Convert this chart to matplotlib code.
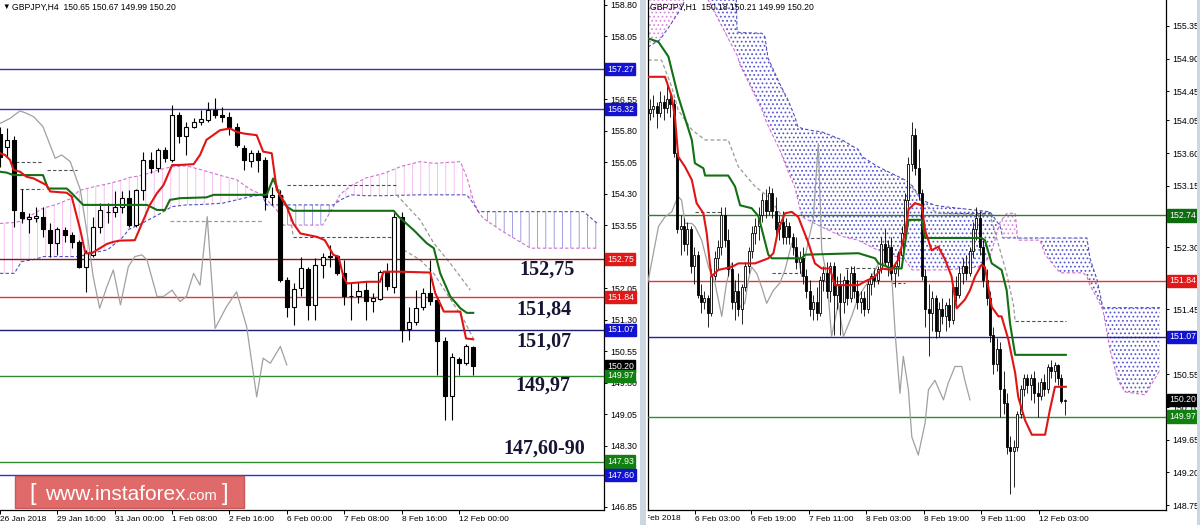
import matplotlib
matplotlib.use("Agg")
import matplotlib.pyplot as plt
import numpy as np
from matplotlib.patches import Rectangle
from matplotlib.transforms import Bbox, blended_transform_factory

plt.rcParams['font.family'] = ['Liberation Sans', 'DejaVu Sans']
plt.rcParams['hatch.linewidth'] = 0.5

# ---------------- LEFT CHART (GBPJPY, H4) ----------------
L_OPEN = [155.74,155.43,155.59,153.88,153.70,153.74,153.76,153.44,153.13,153.44,
          153.32,153.16,152.57,152.85,153.52,153.86,153.88,154.00,154.20,153.56,
          154.40,155.11,154.93,155.35,155.11,156.18,155.67,155.90,156.02,156.06,
          156.31,156.18,156.14,155.89,155.39,155.09,155.27,155.11,154.24,154.28,
          152.25,151.62,152.05,152.51,151.66,152.61,152.82,152.82,152.41,151.87,
          151.86,152.01,151.76,151.79,152.45,152.09,153.76,151.08,151.26,151.62,
          151.95,151.78,150.81,149.48,150.36,150.27,150.65]
L_HIGH = [155.90,155.86,155.67,154.43,153.84,154.00,154.00,153.60,153.52,153.52,
          153.40,153.20,152.97,153.76,154.08,154.08,154.36,154.36,154.40,154.43,
          155.31,155.31,155.39,155.43,156.42,156.26,156.02,156.10,156.30,156.50,
          156.58,156.38,156.26,155.98,155.47,155.35,155.35,155.19,154.47,154.40,
          152.33,152.17,152.81,152.57,152.77,152.89,153.09,152.85,152.73,152.17,
          152.21,152.21,151.94,152.49,152.65,153.84,153.88,151.62,152.01,152.05,
          152.73,151.86,150.90,150.51,150.43,150.74,150.67]
L_LOW = [154.95,155.19,153.52,153.60,153.36,153.64,153.28,152.81,152.85,153.16,
         153.01,152.53,151.97,152.81,153.36,153.60,153.76,153.84,153.52,153.52,
         154.16,154.79,154.83,155.07,155.07,155.51,155.23,155.86,155.94,156.02,
         156.10,156.02,155.70,155.43,154.87,154.95,154.83,153.92,154.04,152.21,
         151.38,151.18,151.86,151.30,151.30,152.29,152.57,152.37,151.66,151.30,
         151.70,151.30,151.50,151.78,152.01,151.94,150.78,150.82,151.18,151.54,
         151.66,149.99,148.92,148.92,149.99,150.23,149.99]
L_CLOSE = [155.19,155.59,153.92,153.72,153.76,153.78,153.46,153.13,153.46,153.32,
           153.16,152.57,152.89,153.52,153.92,153.88,154.00,154.20,153.56,154.40,
           155.11,154.93,155.35,155.15,156.18,155.67,155.90,156.02,156.08,156.30,
           156.18,156.14,155.89,155.47,155.11,155.27,155.11,154.24,154.28,152.25,
           151.62,152.03,152.53,151.66,152.61,152.81,152.81,152.41,151.87,151.86,
           152.00,151.75,151.82,152.45,152.11,153.76,151.06,151.26,151.58,151.95,
           151.76,150.81,149.48,150.43,150.27,150.67,150.20]

L_TENKAN_X = [0,0.7,1.4,1.9,2.8,3.7,4.7,6.5,7,9.3,10,11.2,11.9,12.8,14.9,15.8,16.7,18.8,20,20.9,
              21.9,22.8,24,24.9,27,27.9,28.8,30.7,32.1,33,34,35.8,36.7,37.9,38.6,40,40.9,41.9,44.2,45.3,
              46.5,47.2,47.9,48.4,51.2,53,53.5,55.8,60,60.7,61.9,64.2,65,66]
L_TENKAN_Y = [155.27,155.23,155.11,154.87,154.83,154.71,154.67,154.51,154.36,154.33,
              154.24,153.44,152.89,152.89,153.11,153.16,153.19,153.20,153.68,154.04,
              154.32,154.51,154.99,154.99,155.01,155.23,155.59,155.82,155.86,155.78,
              155.74,155.70,155.31,155.27,154.40,154.00,153.60,153.36,153.28,153.20,
              152.85,152.81,152.33,152.17,152.21,152.21,152.45,152.45,152.43,151.94,
              151.50,151.50,150.86,150.84]
L_KIJUN_X = [0,0.9,1.9,6,6.7,9.3,10,11.6,20.5,21.9,23,23.7,25.1,28.8,29.8,37.2,38.1,39.1,40,40.9,
             54.9,55.6,57.7,59.5,60.5,61.4,62.8,64.2,65.1,66]
L_KIJUN_Y = [154.83,154.81,154.75,154.75,154.43,154.43,154.32,154.04,154.04,153.92,
             153.92,154.16,154.20,154.22,154.28,154.28,154.67,154.24,154.00,153.90,
             153.90,153.76,153.44,153.13,153.01,152.41,151.86,151.58,151.47,151.47]
L_CHIKOU_X = [0,1.4,2.8,3.7,4.7,6,7.7,8.6,9.8,11.2,12.3,13,13.9,14.9,15.8,16.8,17.9,18.8,19.8,20.5,
              21.9,22.8,24,25.1,26,27,27.9,28.9,30,31.6,33,34.4,35.8,36.7,37.7,39.1,40]
L_CHIKOU_Y = [155.98,156.10,156.28,156.22,156.14,155.90,155.15,155.23,155.07,154.40,
              153.20,152.33,151.58,152.09,152.49,151.66,152.57,152.81,152.85,152.73,
              151.86,151.86,152.01,151.74,151.86,152.41,152.13,153.76,151.10,151.62,
              151.97,151.14,149.47,150.39,150.27,150.67,150.23]
L_CLOUD_X = [0,2,3,5,6,8,10,11,13,15,17,18,20,22,24,26,28,31,33,35,
             36.5,37.2,38.6,39.5,45,46.5,47.5,49,51,53.5,56,58.6,60.5,64.2,65.1,66,66.7,67.4,70,74,
             81.4,83.3]
L_SPAN_A = [153.60,153.62,153.66,153.86,153.96,154.06,154.20,154.38,154.47,154.54,
            154.63,154.69,154.75,154.87,154.95,154.97,154.88,154.73,154.64,154.40,
            154.29,154.16,153.92,153.56,153.56,154.00,154.30,154.50,154.68,154.79,
            154.96,155.07,155.03,155.07,154.71,154.16,153.88,153.72,153.42,153.01,
            153.01,153.01]
L_SPAN_B = [152.41,152.41,152.69,152.75,152.81,152.81,152.81,152.81,152.90,152.97,
            153.25,153.46,153.62,153.80,154.00,154.04,154.05,154.08,154.16,154.24,
            154.28,154.04,154.04,154.04,154.04,154.04,154.16,154.28,154.26,154.26,
            154.27,154.28,154.28,154.28,154.28,154.08,153.88,153.88,153.88,153.88,
            153.88,153.60]
L_DK_START = [1.4, 6.5, 2.8, 40, 40.9]
L_DK_END = [6, 10.7, 6, 55.3, 54.9]
L_DK_LEVEL = [155.07, 154.87, 154.41, 154.51, 153.28]
L_GRAY_LINES = [
    ([23.7, 36.7], [153.66, 153.66]),
    ([38.1, 39.5, 40.5, 40.9], [154.67, 154.24, 153.76, 153.28]),
    ([55.3, 58.6, 60.5, 62.8, 65.6], [154.28, 153.68, 153.13, 152.65, 152.01]),
    ([56.3, 58.6, 60.5, 62.3, 64.7, 66], [152.97, 152.73, 152.41, 151.93, 151.30, 150.86]),
]
L_LEVELS = [157.27, 156.32, 152.75, 151.84, 151.07, 149.97, 147.93, 147.60]
L_LEVEL_LINE_COLORS = ['#3c2cc8', '#3c2cc8', '#8b1414', '#e83434', '#1e1e70', '#2e8b2e', '#2e8b2e', '#3030e0']
L_LEVEL_BOX_COLORS = ['#1212d0', '#1212d0', '#e01818', '#e01818', '#1212d0', '#118011', '#118011', '#1212d0']
L_YTICKS = [158.80, 158.05, 156.55, 155.80, 155.05, 154.30, 153.55, 152.05, 151.30, 150.55,
            149.80, 149.05, 148.30, 146.85]
L_XTICK_POS = [0, 8, 16, 24, 32, 40, 48, 56, 64]
L_XTICK_LABELS = ["26 Jan 2018", "29 Jan 16:00", "31 Jan 00:00", "1 Feb 08:00", "2 Feb 16:00",
                  "6 Feb 00:00", "7 Feb 08:00", "8 Feb 16:00", "12 Feb 00:00"]
ANNOT_TEXTS = ["152,75", "151,84", "151,07", "149,97", "147,60-90"]

# ---------------- RIGHT CHART (GBPJPY, H1) ----------------
R_OPEN = [154.15,154.20,154.25,154.15,154.30,154.22,154.35,154.28,153.60,152.55,
          152.60,152.35,152.55,152.05,152.20,151.65,151.55,151.60,151.40,151.90,
          152.15,152.30,152.75,152.40,152.00,151.55,151.70,151.45,151.75,152.05,
          152.25,152.50,152.60,152.75,152.95,152.80,153.05,152.80,152.55,152.65,
          152.45,152.60,152.45,152.30,152.10,152.15,151.90,151.70,151.45,151.55,
          151.40,151.85,151.95,151.70,152.05,151.65,151.80,151.55,151.85,151.60,
          151.95,151.70,151.55,151.60,151.45,151.80,151.90,151.85,152.00,152.35,
          152.10,152.30,151.95,152.05,152.20,152.50,152.95,153.45,153.85,153.40,
          153.05,151.90,151.45,151.40,151.60,151.15,151.45,151.35,151.50,151.30,
          151.75,151.65,151.95,152.05,151.95,152.25,152.55,152.70,152.30,151.85,
          151.60,151.10,150.70,150.90,150.35,150.15,149.55,149.50,149.55,150.00,
          150.35,150.50,150.40,150.50,150.30,150.25,150.45,150.35,150.65,150.60,
          150.68,150.50,150.18]
R_HIGH = [154.35,154.40,154.30,154.45,154.40,154.55,154.42,154.35,153.65,152.75,
          152.70,152.65,152.60,152.30,152.25,151.80,151.70,151.65,152.00,152.25,
          152.40,152.85,152.85,152.55,152.10,151.85,151.95,151.80,152.10,152.30,
          152.60,152.70,152.85,153.05,153.10,153.15,153.12,153.00,152.75,152.80,
          152.70,152.65,152.50,152.45,152.25,152.30,152.00,151.85,151.65,151.75,
          151.90,152.05,152.10,152.10,152.10,151.90,151.95,151.90,152.00,152.05,
          152.05,151.85,151.70,151.70,151.85,151.95,152.00,152.05,152.45,152.55,
          152.40,152.45,152.10,152.25,152.60,153.05,153.55,154.03,153.95,153.65,
          153.10,152.00,151.80,151.70,151.65,151.55,151.60,151.55,151.60,151.80,
          151.90,152.05,152.15,152.20,152.30,152.65,152.85,152.80,152.40,152.00,
          151.70,151.20,151.05,151.00,150.60,150.30,149.70,149.65,150.05,150.40,
          150.55,150.55,150.55,150.60,150.45,150.50,150.55,150.70,150.75,150.72,
          150.70,150.55,150.21]
R_LOW = [154.05,154.10,153.95,154.10,154.05,154.15,154.10,153.55,152.50,152.20,
         152.25,152.20,151.95,151.80,151.60,151.40,151.45,151.20,151.35,151.85,
         152.00,152.20,152.30,151.90,151.45,151.30,151.35,151.25,151.70,151.95,
         152.15,152.35,152.40,152.65,152.70,152.75,152.70,152.45,152.40,152.35,
         152.35,152.35,152.20,152.00,151.95,151.80,151.60,151.35,151.30,151.30,
         151.35,151.70,151.60,151.55,151.10,151.45,151.10,151.40,151.50,151.55,
         151.60,151.45,151.40,151.35,151.40,151.65,151.75,151.80,151.95,152.05,
         151.90,151.85,151.75,151.90,152.05,152.40,152.85,153.35,153.30,152.95,
         151.85,151.20,150.80,151.15,151.05,151.07,151.25,151.15,151.20,151.25,
         151.55,151.60,151.80,151.85,151.90,152.15,152.40,152.20,151.75,151.50,
         151.00,150.55,150.60,149.97,150.00,149.45,148.91,149.00,149.50,149.95,
         150.25,150.30,150.20,150.15,149.97,150.20,150.25,150.30,150.50,150.45,
         150.40,150.15,149.99]
R_CLOSE = [154.20,154.25,154.15,154.30,154.22,154.35,154.28,153.60,152.55,152.60,
           152.35,152.55,152.05,152.20,151.65,151.55,151.60,151.40,151.90,152.15,
           152.30,152.75,152.40,152.00,151.55,151.70,151.45,151.75,152.05,152.25,
           152.50,152.60,152.75,152.95,152.80,153.05,152.80,152.55,152.65,152.45,
           152.60,152.45,152.30,152.10,152.15,151.90,151.70,151.45,151.55,151.40,
           151.85,151.95,151.70,152.05,151.65,151.80,151.55,151.85,151.60,151.95,
           151.70,151.55,151.60,151.45,151.80,151.90,151.85,152.00,152.35,152.10,
           152.30,151.95,152.05,152.20,152.50,152.95,153.45,153.85,153.40,153.05,
           151.90,151.45,151.40,151.60,151.15,151.45,151.35,151.50,151.30,151.75,
           151.65,151.95,152.05,151.95,152.25,152.55,152.70,152.30,151.85,151.60,
           151.10,150.70,150.90,150.35,150.15,149.55,149.50,149.55,150.00,150.35,
           150.50,150.40,150.50,150.30,150.25,150.45,150.35,150.65,150.60,150.68,
           150.50,150.18,150.20]

R_TENKAN_X = [-0.6,4.4,6.4,7.4,8.3,10.3,12.3,13.7,15.7,16.7,17.6,18.1,20.1,24,26,30.9,34.8,36.3,37.7,39.7,
              41.7,43.6,45.1,46.6,48.5,50.5,52.9,54.4,61.3,63.2,66.2,68.1,71.1,73,75,76,77.9,79.9,80.9,82.8,
              84.8,86.8,88.7,90.2,92.6,94.1,95.6,97.5,98.5,100.5,102.5,103.4,105.4,107.4,108.3,110.3,112.3,
              116.2,117.6,119.1,122.3]
R_TENKAN_Y = [154.65,154.65,154.38,154.06,153.55,153.41,153.23,152.91,152.77,152.49,
              152.08,151.90,151.99,152.03,152.08,152.08,152.15,152.22,152.54,152.77,
              152.79,152.72,152.54,152.36,152.08,152.01,152.01,151.78,151.78,151.83,
              151.90,152.01,151.99,152.13,152.49,152.82,152.91,152.88,152.54,152.26,
              152.31,152.13,151.90,151.46,151.58,151.71,151.90,152.06,152.03,151.48,
              151.35,151.35,151.03,150.57,150.24,149.92,149.72,149.72,150.06,150.38,
              150.38]
R_KIJUN_X = [-0.6,2.5,5.4,8.3,12.3,13.2,15.7,16.2,23,25,26.5,29.9,31.9,34.8,35.8,44.6,45.6,61.3,66.2,67.2,
             71.1,74,76,79.9,80.9,97.5,98.5,100.5,103.4,104.9,105.9,107.4,122.3]
R_KIJUN_Y = [155.18,155.13,154.93,154.38,153.78,153.46,153.39,153.29,153.29,153.14,
             152.88,152.84,152.73,152.20,152.15,152.15,152.20,152.22,152.15,152.08,
             152.01,152.01,152.68,152.68,152.43,152.43,152.40,152.08,151.99,151.71,
             151.25,150.82,150.82]
R_CHIKOU_X = [-0.5,2.5,4.4,6.4,7.4,8.3,9.3,10.3,12.3,13.2,15.2,17.2,19.1,21.1,22.5,24,25,26.5,27.9,28.9,
              29.9,31.4,32.8,34.3,36.3,38.2,39.7,41.7,43.6,44.6,46.6,48,49.5,50.5,52,53.4,55.4,56.9,59.3,61.3,
              63.2,65.2,67.2,69.1,71.1,72.1,73.5,74.5,76,77,78.9,80.9,81.9,83.8,86.3,87.7,89.7,91.7,92.6,94.1]
R_CHIKOU_Y = [151.85,152.59,152.72,152.79,152.91,153.00,152.95,152.63,152.63,152.59,
              152.40,152.03,151.81,151.35,151.81,152.08,151.71,151.48,151.53,151.85,
              152.03,151.94,151.76,151.53,151.71,151.81,151.99,152.36,152.17,151.90,
              152.40,152.68,153.73,152.27,151.90,151.07,151.53,151.07,151.35,151.62,
              151.76,151.90,152.08,152.08,151.90,151.12,150.29,150.80,150.34,149.69,
              149.44,149.88,150.34,150.47,150.20,150.43,150.66,150.66,150.47,150.20]
R_CLOUD_X = [-0.6,2.9,5.9,9.4,12.4,14.7,17.1,25,25.6,26.5,32.9,33.8,34.7,38.2,40.6,42.6,43.5,44.7,47.6,50.6,
             56.5,61.2,62.4,67.1,75,77.1,80,83.8,86.8,96.5,100,102.9,103.8,105,107.4,108.2,114.7,116.2,120.6,127.4,
             128.5,129.4,131.5,133.2,135.3,137.6,139.7,145.6,150]
R_SPAN_A = [156.53,156.50,156.45,156.38,156.30,156.05,155.71,155.00,154.95,154.81,
            154.20,154.08,153.98,153.64,153.35,153.13,152.95,152.72,152.65,152.58,
            152.45,152.40,152.37,152.26,152.13,151.99,151.99,151.99,151.99,152.03,
            152.17,152.64,152.70,152.77,152.77,152.40,152.40,152.20,151.95,151.95,
            151.90,151.78,151.60,151.44,150.89,150.47,150.31,150.27,150.61]
R_SPAN_B = [155.06,155.16,155.36,155.61,155.98,156.05,156.53,156.53,155.27,155.26,
            155.25,155.20,154.91,154.55,154.33,154.10,153.96,153.94,153.91,153.89,
            153.78,153.65,153.55,153.41,153.23,153.15,152.95,152.88,152.86,152.81,
            152.79,152.60,152.43,152.43,152.43,152.43,152.43,152.43,152.43,152.43,
            152.43,152.15,151.85,151.47,151.47,151.47,151.47,151.47,151.47]
R_DK_START = [13.2, 35.9, 45.6, 57.4, 71.2, 86.3, 107.4]
R_DK_END = [21.1, 44.7, 53.4, 67.2, 75, 100, 122.3]
R_DK_LEVEL = [152.79, 151.95, 152.43, 152.02, 151.81, 152.77, 151.28]
R_GRAY_LINES = [
    ([-0.6, 3.4, 6.4, 8.3, 12.3, 16.2, 23, 26, 30.9, 34.8, 40],
     [154.88, 154.88, 154.51, 154.19, 153.92, 153.78, 153.78, 153.41, 153.14, 153.00, 152.65]),
    ([76, 80.9, 84.8, 100, 104.9, 106.9, 107.4],
     [153.20, 152.88, 152.77, 152.75, 151.94, 151.51, 151.28]),
]
R_LEVELS = [152.74, 151.84, 151.07, 149.97]
R_LEVEL_LINE_COLORS = ['#2e7d2e', '#e83434', '#2020a0', '#2e8b2e']
R_LEVEL_BOX_COLORS = ['#0f6b0f', '#e01818', '#1212d0', '#118011']
R_YTICKS = [155.35, 154.90, 154.45, 154.05, 153.60, 153.15, 152.30, 151.45, 150.55,
            150.10, 149.65, 149.20, 148.75]
R_XTICK_POS = [13.2, 29.7, 46.8, 63.5, 80.6, 97.4, 114.4]
R_XTICK_LABELS = ["6 Feb 03:00", "6 Feb 19:00", "7 Feb 11:00", "8 Feb 03:00", "8 Feb 19:00",
                  "9 Feb 11:00", "12 Feb 03:00"]

LAST_PRICE = 150.20

# ---------------- FIGURE ----------------
W, H = 1200, 525
fig = plt.figure(figsize=(12, 5.25), dpi=100)
fig.patch.set_facecolor('white')


def fx(px):
    return px / W


def fy(py):
    return 1 - py / H


axL = fig.add_axes([fx(0), fy(510), fx(604), 510 / H])
axR = fig.add_axes([fx(648), fy(510), fx(1166) - fx(648), 510 / H])

axL.set_xlim(0, 84.24)
axL.set_ylim(146.776, 158.919)
axR.set_xlim(-0.59, 151.76)
axR.set_ylim(148.683, 155.708)


def draw_candles(ax, o, h, l, c, width, lw):
    o, h, l, c = map(np.asarray, (o, h, l, c))
    x = np.arange(len(o))
    ax.vlines(x, l, h, color='black', lw=lw, zorder=4)
    up = c >= o
    bottom = np.minimum(o, c)
    height = np.maximum(np.abs(c - o), 0.01)
    ax.bar(x[up], height[up], width, bottom[up], facecolor='white', edgecolor='black',
           linewidth=lw, zorder=5)
    ax.bar(x[~up], height[~up], width, bottom[~up], facecolor='black', edgecolor='black',
           linewidth=lw, zorder=5)


def draw_cloud(ax, x, a, b, bull, bear, hatch):
    x, a, b = map(np.asarray, (x, a, b))
    ax.fill_between(x, a, b, where=a >= b, interpolate=True, facecolor='none',
                    edgecolor=bull, hatch=hatch, linewidth=0, zorder=1)
    ax.fill_between(x, a, b, where=a <= b, interpolate=True, facecolor='none',
                    edgecolor=bear, hatch=hatch, linewidth=0, zorder=1)
    ax.plot(x, a, color='#d070d0', lw=0.8, ls=(0, (3, 2)), zorder=2)
    ax.plot(x, b, color='#5050c0', lw=0.8, ls=(0, (3, 2)), zorder=2)


def price_box(ax, price, text, fc):
    tr = blended_transform_factory(ax.transAxes, ax.transData)
    ax.annotate(text, xy=(1, price), xycoords=tr, xytext=(3, 0), textcoords='offset pixels',
                ha='left', va='center', fontsize=6.3, color='white',
                bbox=dict(boxstyle='square,pad=0.18', fc=fc, ec=fc),
                annotation_clip=False, zorder=20)


def style_axes(ax, yticks, xpos, xlabels, left_spine):
    ax.spines['top'].set_visible(False)
    ax.spines['left'].set_visible(left_spine)
    for s in ['right', 'bottom', 'left']:
        ax.spines[s].set_linewidth(0.9)
        ax.spines[s].set_color('black')
    ax.yaxis.tick_right()
    ax.set_yticks(yticks, labels=[f"{v:.2f}" for v in yticks])
    ax.tick_params(axis='y', direction='out', length=2.5, width=0.7, pad=2, labelsize=6.3)
    ax.set_xticks(xpos, labels=xlabels, ha='left')
    ax.tick_params(axis='x', direction='out', length=3, width=0.7, pad=1.5, labelsize=6.0)
    ax.set_facecolor('white')


# LEFT
plt.rcParams['hatch.linewidth'] = 0.5
draw_cloud(axL, L_CLOUD_X, L_SPAN_A, L_SPAN_B, '#f0a8ec', '#7878dc', '||')
for s, e, v in zip(L_DK_START, L_DK_END, L_DK_LEVEL):
    axL.plot([s, e], [v, v], color='#505050', lw=0.8, ls=(0, (3, 2)), zorder=2)
for xs, ys in L_GRAY_LINES:
    axL.plot(xs, ys, color='#9a9a9a', lw=0.9, ls=(0, (3, 2)), zorder=2)
for lev, col in zip(L_LEVELS, L_LEVEL_LINE_COLORS):
    axL.axhline(lev, color=col, lw=1.0, zorder=3)
axL.plot(L_CHIKOU_X, L_CHIKOU_Y, color='#a0a0a0', lw=0.9, zorder=3)
draw_candles(axL, L_OPEN, L_HIGH, L_LOW, L_CLOSE, 0.56, 0.8)
axL.plot(L_KIJUN_X, L_KIJUN_Y, color='#127012', lw=1.5, zorder=6)
axL.plot(L_TENKAN_X, L_TENKAN_Y, color='#e01414', lw=1.5, zorder=7)
style_axes(axL, L_YTICKS, L_XTICK_POS, L_XTICK_LABELS, False)
for lev, col in zip(L_LEVELS, L_LEVEL_BOX_COLORS):
    if lev == 149.97:
        price_box(axL, LAST_PRICE, f"{LAST_PRICE:.2f}", 'black')
    price_box(axL, lev, f"{lev:.2f}", col)

# RIGHT
plt.rcParams['hatch.linewidth'] = 0.8
draw_cloud(axR, R_CLOUD_X, R_SPAN_A, R_SPAN_B, '#d890dc', '#5a5ad4', '....')
for s, e, v in zip(R_DK_START, R_DK_END, R_DK_LEVEL):
    axR.plot([s, e], [v, v], color='#505050', lw=0.8, ls=(0, (3, 2)), zorder=2)
for xs, ys in R_GRAY_LINES:
    axR.plot(xs, ys, color='#9a9a9a', lw=0.9, ls=(0, (3, 2)), zorder=2)
for lev, col in zip(R_LEVELS, R_LEVEL_LINE_COLORS):
    axR.axhline(lev, color=col, lw=1.0, zorder=3)
axR.plot(R_CHIKOU_X, R_CHIKOU_Y, color='#a0a0a0', lw=0.9, zorder=3)
draw_candles(axR, R_OPEN, R_HIGH, R_LOW, R_CLOSE, 0.6, 0.6)
axR.plot(R_KIJUN_X, R_KIJUN_Y, color='#127012', lw=1.5, zorder=6)
axR.plot(R_TENKAN_X, R_TENKAN_Y, color='#e01414', lw=1.5, zorder=7)
style_axes(axR, R_YTICKS, R_XTICK_POS, R_XTICK_LABELS, True)
for lev, col in zip(R_LEVELS, R_LEVEL_BOX_COLORS):
    if lev == 149.97:
        price_box(axR, LAST_PRICE, f"{LAST_PRICE:.2f}", 'black')
    price_box(axR, lev, f"{lev:.2f}", col)

# first (cut) date label of right chart
t = fig.text(fx(638), fy(518), "5 Feb 2018", fontsize=6.0, va='center', ha='left')
t.set_clip_box(Bbox.from_extents(648, 0, 1200, 525))
t.set_clip_on(True)

# separators between windows
fig.add_artist(Rectangle((fx(640.5), 0), fx(5.5), 1, transform=fig.transFigure,
                         facecolor='#cdd7e2', edgecolor='none', zorder=30))
fig.add_artist(Rectangle((fx(1197), 0), fx(3), 1, transform=fig.transFigure,
                         facecolor='#cdd7e2', edgecolor='none', zorder=30))

# headers
fig.text(fx(2), fy(7), "\u25bc", fontsize=5.5, va='center', ha='left')
fig.text(fx(12), fy(7), "GBPJPY,H4  150.65 150.67 149.99 150.20", fontsize=6.2, va='center', ha='left')
fig.text(fx(650), fy(7), "GBPJPY,H1  150.18 150.21 149.99 150.20", fontsize=6.2, va='center', ha='left',
         zorder=10)

# level annotations
annot_pos = [(519, 270), (516, 310), (516, 342), (515, 386), (503, 449)]
for txt, (px, py) in zip(ANNOT_TEXTS, annot_pos):
    fig.text(fx(px), fy(py), txt, fontsize=14.5, fontweight='bold', family='Liberation Serif',
             color='#161634', va='center', ha='left', zorder=25)

# watermark
fig.add_artist(Rectangle((fx(15), fy(508)), fx(229), 32 / H, transform=fig.transFigure,
                         facecolor='#e06a6a', edgecolor='#c65a5a', lw=1, zorder=25))
renderer = fig.canvas.get_renderer()
base_y = fy(500)
fig.text(fx(29), base_y, "[", fontsize=17, color='white', va='baseline', ha='left', zorder=26)
t2 = fig.text(fx(45), base_y, "www.instaforex", fontsize=15, color='white', va='baseline',
              ha='left', zorder=26)
bb = t2.get_window_extent(renderer)
t3 = fig.text(bb.x1 / W, base_y, ".com", fontsize=10.5, color='white', va='baseline', ha='left', zorder=26)
bb3 = t3.get_window_extent(renderer)
fig.text(bb3.x1 / W + 4 / W, base_y, "]", fontsize=17, color='white', va='baseline', ha='left', zorder=26)

fig.savefig('out.png', dpi=100, facecolor='white')
